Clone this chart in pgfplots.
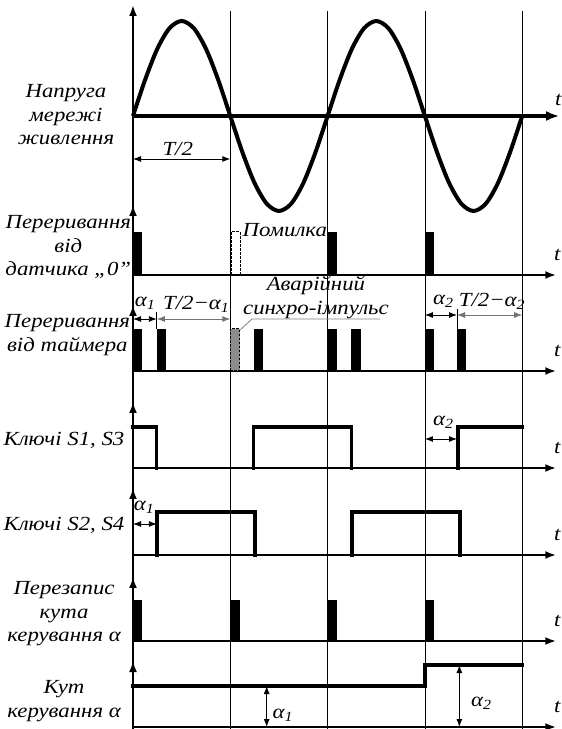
\documentclass[border=0pt]{standalone}
\usepackage{fontspec}
\setmainfont{Liberation Serif}[FakeStretch=1.14]
\usepackage{pgfplots}
\pgfplotsset{compat=1.18}
\usetikzlibrary{arrows.meta}
\newcommand{\al}[1]{\textit{α}\textsubscript{#1}}
\begin{document}
\begin{tikzpicture}
\tikzset{
  axarr/.style={line width=2pt, -{Latex[length=11pt,width=8pt]}},
  ann/.style={line width=0.9pt, {Latex[length=8pt,width=6pt]}-{Latex[length=8pt,width=6pt]}},
  lbl/.style={font=\fontsize{20}{23.5}\selectfont\itshape, align=center, inner sep=0pt},
  wave/.style={line width=3.5pt, line cap=rect, line join=miter},
  grid/.style={black!40, line width=0.6pt, dash pattern=on 3pt off 3pt},
}
\begin{axis}[
  width=562pt, height=729pt, scale only axis,
  xmin=-1.3669, xmax=4.4090, ymin=0, ymax=729,
  hide axis, clip=false,
]
% dashed grid lines at T/2 multiples
\addplot[grid] coordinates {(1,0) (1,718)};
\addplot[grid] coordinates {(2,0) (2,718)};
\addplot[grid] coordinates {(3,0) (3,718)};
\addplot[grid] coordinates {(4,0) (4,718)};

% vertical axis and arrow heads
\addplot[line width=2pt] coordinates {(0,0) (0,712)};
\addplot[axarr] coordinates {(0,702) (0,724)};
\addplot[axarr] coordinates {(0,505) (0,524)};
\addplot[axarr] coordinates {(0,405) (0,424)};
\addplot[axarr] coordinates {(0,308) (0,327)};
\addplot[axarr] coordinates {(0,222) (0,241)};
\addplot[axarr] coordinates {(0,133) (0,152)};
\addplot[axarr] coordinates {(0,50) (0,68)};

% ---- Panel 1: mains voltage
\addplot[line width=3.5pt, -{Latex[length=13pt,width=10pt]}] coordinates {(0,613) (4.38,613)};
\addplot[line width=4pt, smooth] coordinates {
(0,613) (0.125,649.36) (0.25,680.18) (0.375,700.77) (0.5,708) (0.625,700.77) (0.75,680.18) (0.875,649.36)
(1,613) (1.125,576.64) (1.25,545.82) (1.375,525.23) (1.5,518) (1.625,525.23) (1.75,545.82) (1.875,576.64)
(2,613) (2.125,649.36) (2.25,680.18) (2.375,700.77) (2.5,708) (2.625,700.77) (2.75,680.18) (2.875,649.36)
(3,613) (3.125,576.64) (3.25,545.82) (3.375,525.23) (3.5,518) (3.625,525.23) (3.75,545.82) (3.875,576.64)
(4,613)};
\addplot[ann] coordinates {(0,570) (1,570)};
\node[lbl] at (axis cs:0.46,580) {T/2};
\node[lbl] at (axis cs:4.37,629) {t};
\node[lbl] at (axis cs:-0.689,614) {Напруга\\мережі\\живлення};

% ---- Panel 2: zero-crossing sensor interrupts
\addplot[axarr] coordinates {(0,454) (4.35,454)};
\addplot[fill=black, draw=none] coordinates {(0,454) (0,497) (0.095,497) (0.095,454)} -- cycle;
\addplot[fill=black, draw=none] coordinates {(2,454) (2,497) (2.095,497) (2.095,454)} -- cycle;
\addplot[fill=black, draw=none] coordinates {(3,454) (3,497) (3.095,497) (3.095,454)} -- cycle;
\addplot[line width=1pt, dash pattern=on 2.5pt off 1.5pt] coordinates {(1.01,454) (1.01,497) (1.1,497) (1.1,454)};
\node[lbl] at (axis cs:1.56,499) {Помилка};
\node[lbl] at (axis cs:4.36,474) {t};
\node[lbl] at (axis cs:-0.665,482) {Переривання\\від\\датчика „0”};

% ---- Panel 3: timer interrupts
\addplot[axarr] coordinates {(0,358) (4.35,358)};
\addplot[fill=black, draw=none] coordinates {(0,358) (0,400) (0.095,400) (0.095,358)} -- cycle;
\addplot[fill=black, draw=none] coordinates {(0.245,358) (0.245,400) (0.34,400) (0.34,358)} -- cycle;
\addplot[fill=black!45, draw=black, line width=1pt, dash pattern=on 2.5pt off 1.5pt] coordinates {(1.0,358) (1.0,400) (1.095,400) (1.095,358)} -- cycle;
\addplot[fill=black, draw=none] coordinates {(1.245,358) (1.245,400) (1.34,400) (1.34,358)} -- cycle;
\addplot[fill=black, draw=none] coordinates {(2.005,358) (2.005,400) (2.1,400) (2.1,358)} -- cycle;
\addplot[fill=black, draw=none] coordinates {(2.245,358) (2.245,400) (2.34,400) (2.34,358)} -- cycle;
\addplot[fill=black, draw=none] coordinates {(3,358) (3,400) (3.095,400) (3.095,358)} -- cycle;
\addplot[fill=black, draw=none] coordinates {(3.33,358) (3.33,400) (3.425,400) (3.425,358)} -- cycle;
\addplot[ann] coordinates {(0,410) (0.245,410)};
\addplot[line width=0.8pt] coordinates {(0.245,400) (0.245,417)};
\addplot[ann, black!55] coordinates {(0.245,410) (1.0,410)};
\node[lbl] at (axis cs:0.125,426) {\al{1}};
\node[lbl] at (axis cs:0.65,425) {T/2−\al{1}};
\node[lbl] at (axis cs:1.88,443) {Аварійний};
\node[lbl] at (axis cs:1.88,419) {синхро-імпульс};
\addplot[black!50, line width=0.8pt] coordinates {(2.539,410) (1.223,410) (1.10,399)};
\addplot[ann] coordinates {(3.0,414) (3.33,414)};
\addplot[line width=0.8pt] coordinates {(3.33,400) (3.33,420)};
\addplot[ann, black!55] coordinates {(3.33,414) (4.0,414)};
\node[lbl] at (axis cs:3.19,428) {\al{2}};
\node[lbl] at (axis cs:3.69,428) {T/2−\al{2}};
\node[lbl] at (axis cs:4.36,378) {t};
\node[lbl] at (axis cs:-0.675,394) {Переривання\\від таймера};

% ---- Panel 4: keys S1, S3
\addplot[axarr] coordinates {(0,261) (4.35,261)};
\addplot[wave] coordinates {(0,302) (0.24,302) (0.24,261)};
\addplot[wave] coordinates {(1.24,261) (1.24,302) (2.245,302) (2.245,261)};
\addplot[wave] coordinates {(3.34,261) (3.34,302) (4.0,302)};
\addplot[ann] coordinates {(3.0,290) (3.33,290)};
\node[lbl] at (axis cs:3.19,307) {\al{2}};
\node[lbl] at (axis cs:4.36,281) {t};
\node[lbl] at (axis cs:-0.709,289) {Ключі S1, S3};

% ---- Panel 5: keys S2, S4
\addplot[axarr] coordinates {(0,174) (4.35,174)};
\addplot[wave] coordinates {(0.245,174) (0.245,217) (1.255,217) (1.255,174)};
\addplot[wave] coordinates {(2.25,174) (2.25,217) (3.36,217) (3.36,174)};
\addplot[ann] coordinates {(0,205) (0.245,205)};
\node[lbl] at (axis cs:0.115,222) {\al{1}};
\node[lbl] at (axis cs:4.36,194) {t};
\node[lbl] at (axis cs:-0.709,204) {Ключі S2, S4};

% ---- Panel 6: control angle rewrite
\addplot[axarr] coordinates {(0,88) (4.35,88)};
\addplot[fill=black, draw=none] coordinates {(0,88) (0,129) (0.095,129) (0.095,88)} -- cycle;
\addplot[fill=black, draw=none] coordinates {(1,88) (1,129) (1.095,129) (1.095,88)} -- cycle;
\addplot[fill=black, draw=none] coordinates {(2,88) (2,129) (2.095,129) (2.095,88)} -- cycle;
\addplot[fill=black, draw=none] coordinates {(3,88) (3,129) (3.095,129) (3.095,88)} -- cycle;
\node[lbl] at (axis cs:4.36,108) {t};
\node[lbl] at (axis cs:-0.709,115) {Перезапис\\кута\\керування \textit{α}};

% ---- Panel 7: control angle
\addplot[axarr] coordinates {(0,2) (4.35,2)};
\addplot[wave] coordinates {(0,43) (3.0,43) (3.0,64) (4.0,64)};
\addplot[ann] coordinates {(1.374,2) (1.374,43)};
\addplot[ann] coordinates {(3.354,2) (3.354,64)};
\node[lbl] at (axis cs:1.54,14) {\al{1}};
\node[lbl] at (axis cs:3.58,26) {\al{2}};
\node[lbl] at (axis cs:4.36,22) {t};
\node[lbl] at (axis cs:-0.709,28) {Кут\\керування \textit{α}};
\end{axis}
\pgfresetboundingbox
\path (current axis.south west) rectangle (current axis.north east);
\end{tikzpicture}
\end{document}
